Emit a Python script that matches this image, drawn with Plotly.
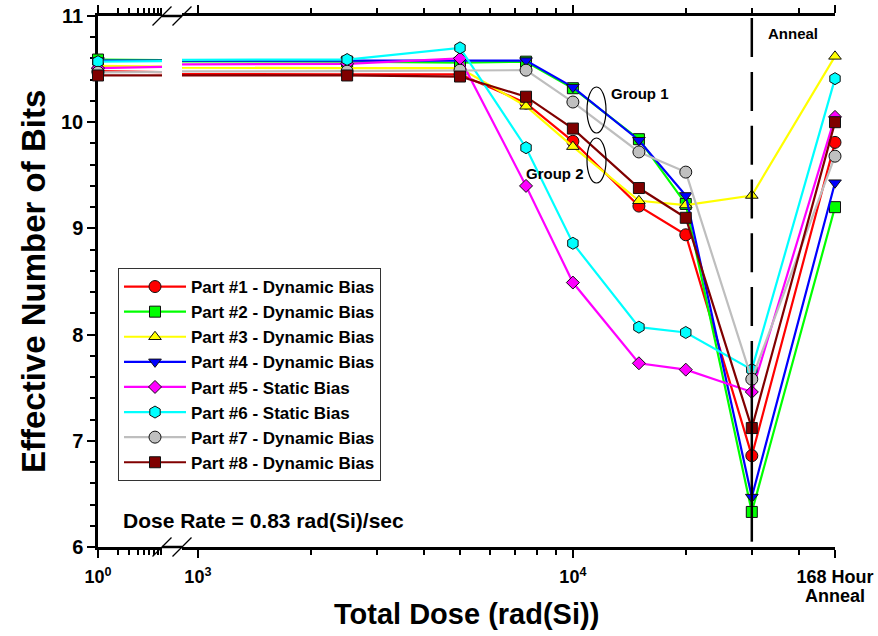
import math
import plotly.graph_objects as go

# ---------------- data ----------------
doses = [1, 2500, 5000, 7500, 10000, 15000, 20000, 30000, 50000]  # last = 168 hour anneal position

series_names = [
    "Part #1 - Dynamic Bias",
    "Part #2 - Dynamic Bias",
    "Part #3 - Dynamic Bias",
    "Part #4 - Dynamic Bias",
    "Part #5 - Static Bias",
    "Part #6 - Static Bias",
    "Part #7 - Dynamic Bias",
    "Part #8 - Dynamic Bias",
]
part1 = [10.48, 10.45, 10.45, 10.18, 9.82, 9.21, 8.94, 6.86, 9.81]
part2 = [10.59, 10.57, 10.56, 10.57, 10.32, 9.84, 9.23, 6.33, 9.20]
part3 = [10.53, 10.51, 10.51, 10.15, 9.77, 9.26, 9.22, 9.31, 10.62]
part4 = [10.58, 10.58, 10.58, 10.58, 10.33, 9.83, 9.31, 6.47, 9.43]
part5 = [10.51, 10.55, 10.60, 9.40, 8.49, 7.73, 7.67, 7.46, 10.05]
part6 = [10.57, 10.59, 10.70, 9.76, 8.86, 8.07, 8.02, 7.67, 10.41]
part7 = [10.47, 10.48, 10.49, 10.49, 10.19, 9.72, 9.53, 7.58, 9.68]
part8 = [10.44, 10.44, 10.43, 10.24, 9.94, 9.38, 9.10, 7.12, 10.00]
all_parts = [part1, part2, part3, part4, part5, part6, part7, part8]

line_colors = ["#FF0000", "#00FF00", "#FFFF00", "#0000FF", "#FF00FF", "#00FFFF", "#BEBEBE", "#800000"]
marker_colors = ["#FF0000", "#00FF00", "#FFFF00", "#0000FF", "#FF00FF", "#00FFFF", "#C0C0C0", "#800000"]
symbols = ["circle", "square", "triangle-up", "triangle-down", "diamond", "hexagon", "circle", "square"]
sizes = [12, 11, 11, 11, 10, 12, 12, 11]

left_tickvals = [1]
left_ticktext = ["10<sup>0</sup>"]
left_minor = [2, 3, 4, 5, 6, 7, 8, 9]
right_tickvals = [1000, 10000, 50000]
right_ticktext = ["10<sup>3</sup>", "10<sup>4</sup>", "168 Hour"]
right_minor = [2000, 3000, 4000, 5000, 6000, 7000, 8000, 9000, 20000, 30000, 40000]

anneal_dose = 30000
anneal_dash_y = [10.98, 7.93]
anneal_solid_y = [7.93, 6.05]

# ---------------- layout geometry ----------------
W, H = 878, 636
PL, PR, PT, PB = 98, 835, 16, 547
pw, ph = PR - PL, PB - PT


def fx(p):
    return (p - PL) / pw


def fy(p):
    return (PB - p) / ph


BREAK_L, BREAK_R = 162, 182
left_dom = [0, fx(BREAK_L)]
right_dom = [fx(BREAK_R), 1]
left_range = [0, (BREAK_L - PL) / 66.0]
right_range = [math.log10(50000) - (PR - BREAK_R) / 375.0, math.log10(50000)]

FONT = "Liberation Sans, Arial, Helvetica, sans-serif"


def bfont(size, color="black"):
    return dict(family=FONT, size=size, color=color, weight="bold")


fig = go.Figure()

for i, vals in enumerate(all_parts):
    ln = dict(color=line_colors[i], width=2.2)
    mk = dict(symbol=symbols[i], size=sizes[i], color=marker_colors[i],
              line=dict(color="#111111", width=1))
    # left segment line (clipped at the break)
    fig.add_trace(go.Scatter(x=doses[:2], y=vals[:2], xaxis="x", yaxis="y", mode="lines",
                             line=ln, showlegend=False, hoverinfo="skip"))
    fig.add_trace(go.Scatter(x=doses[:1], y=vals[:1], xaxis="x", yaxis="y", mode="markers",
                             marker=mk, cliponaxis=False, showlegend=False))
    # right segment: bridge across the break and main series
    fig.add_trace(go.Scatter(x=doses[:2], y=vals[:2], xaxis="x2", yaxis="y", mode="lines",
                             line=ln, showlegend=False, hoverinfo="skip"))
    fig.add_trace(go.Scatter(x=doses[1:], y=vals[1:], xaxis="x2", yaxis="y", mode="lines+markers",
                             line=ln, marker=mk, cliponaxis=False, name=series_names[i]))

# vertical anneal marker line
fig.add_trace(go.Scatter(x=[anneal_dose, anneal_dose], y=anneal_dash_y, xaxis="x2", yaxis="y",
                         mode="lines", line=dict(color="black", width=2.5, dash="39px,14.8px"),
                         showlegend=False, hoverinfo="skip"))
fig.add_trace(go.Scatter(x=[anneal_dose, anneal_dose], y=anneal_solid_y, xaxis="x2", yaxis="y",
                         mode="lines", line=dict(color="black", width=2.5),
                         showlegend=False, hoverinfo="skip"))

axis_common = dict(
    type="log", showgrid=False, zeroline=False, showline=True, linewidth=2.5, linecolor="black",
    mirror="ticks", ticks="outside", ticklen=8, tickwidth=1.5, tickcolor="black",
    layer="below traces", tickfont=bfont(18), ticklabelstandoff=4, automargin=False,
)

fig.update_layout(
    width=W, height=H,
    margin=dict(l=PL, r=W - PR, t=PT, b=H - PB, autoexpand=False),
    paper_bgcolor="white", plot_bgcolor="white",
    font=bfont(16),
    xaxis=dict(domain=left_dom, range=left_range, anchor="y",
               tickmode="array", tickvals=left_tickvals, ticktext=left_ticktext,
               minor=dict(tickmode="array", tickvals=left_minor, ticks="outside", ticklen=5,
                          tickwidth=1.5, tickcolor="black"),
               **axis_common),
    xaxis2=dict(domain=right_dom, range=right_range, anchor="y",
                tickmode="array", tickvals=right_tickvals, ticktext=right_ticktext,
                minor=dict(tickmode="array", tickvals=right_minor, ticks="outside", ticklen=5,
                           tickwidth=1.5, tickcolor="black"),
                **axis_common),
    yaxis=dict(range=[6, 11], anchor="x", side="left", tick0=6, dtick=1,
               showgrid=False, zeroline=False, showline=True, linewidth=2.5, linecolor="black",
               ticks="outside", ticklen=8, tickwidth=1.5, tickcolor="black",
               minor=dict(dtick=0.2, ticks="outside", ticklen=5, tickwidth=1.5, tickcolor="black"),
               layer="below traces", tickfont=bfont(20), automargin=False),
    yaxis2=dict(range=[6, 11], anchor="x2", side="right", overlaying="y", tick0=6, dtick=1,
                showgrid=False, zeroline=False, showline=True, linewidth=2.5, linecolor="black",
                ticks="outside", ticklen=8, tickwidth=1.5, tickcolor="black",
                minor=dict(dtick=0.2, ticks="outside", ticklen=5, tickwidth=1.5, tickcolor="black"),
                showticklabels=False, layer="below traces", automargin=False),
    legend=dict(x=fx(118), y=fy(268), xanchor="left", yanchor="top",
                bgcolor="white", bordercolor="#333333", borderwidth=1,
                font=bfont(17), itemwidth=62, tracegroupgap=0),
    showlegend=True,
)

# break marks and axis continuation across the break
dx, dy = 9.5 / pw, 9.5 / ph
shapes = []
for yb in (0, 1):
    shapes.append(dict(type="line", xref="paper", yref="paper", x0=fx(BREAK_L), x1=fx(BREAK_R),
                       y0=yb, y1=yb, line=dict(color="black", width=2.5)))
    for xb in (BREAK_L, BREAK_R):
        shapes.append(dict(type="line", xref="paper", yref="paper",
                           x0=fx(xb) - dx, x1=fx(xb) + dx, y0=yb - dy, y1=yb + dy,
                           line=dict(color="black", width=1.2)))
# group ellipses
shapes.append(dict(type="circle", xref="paper", yref="paper", x0=fx(587), x1=fx(606),
                   y0=fy(133), y1=fy(87), line=dict(color="black", width=1.2)))
shapes.append(dict(type="circle", xref="paper", yref="paper", x0=fx(587), x1=fx(606),
                   y0=fy(183), y1=fy(138), line=dict(color="black", width=1.2)))
fig.update_layout(shapes=shapes)

annotations = [
    dict(text="Anneal", x=fx(793), y=fy(33), font=bfont(15)),
    dict(text="Group 1", x=fx(640), y=fy(94), font=bfont(15)),
    dict(text="Group 2", x=fx(555), y=fy(173), font=bfont(15)),
    dict(text="Anneal", x=fx(835), y=fy(596), font=bfont(18)),
    dict(text="Dose Rate = 0.83 rad(Si)/sec", x=fx(121), y=fy(520), xanchor="left", font=bfont(21)),
    dict(text="Total Dose (rad(Si))", x=fx(466.5), y=fy(614), font=bfont(29)),
    dict(text="Effective Number of Bits", x=fx(33), y=fy(282), textangle=-90, font=bfont(33)),
]
for a in annotations:
    a.update(xref="paper", yref="paper", showarrow=False)
    a.setdefault("xanchor", "center")
    a.setdefault("yanchor", "middle")
fig.update_layout(annotations=annotations)

fig.write_html(
    "out.html",
    config={"displayModeBar": False},
    post_script="document.body.style.margin='0';document.body.style.overflow='hidden';",
)
